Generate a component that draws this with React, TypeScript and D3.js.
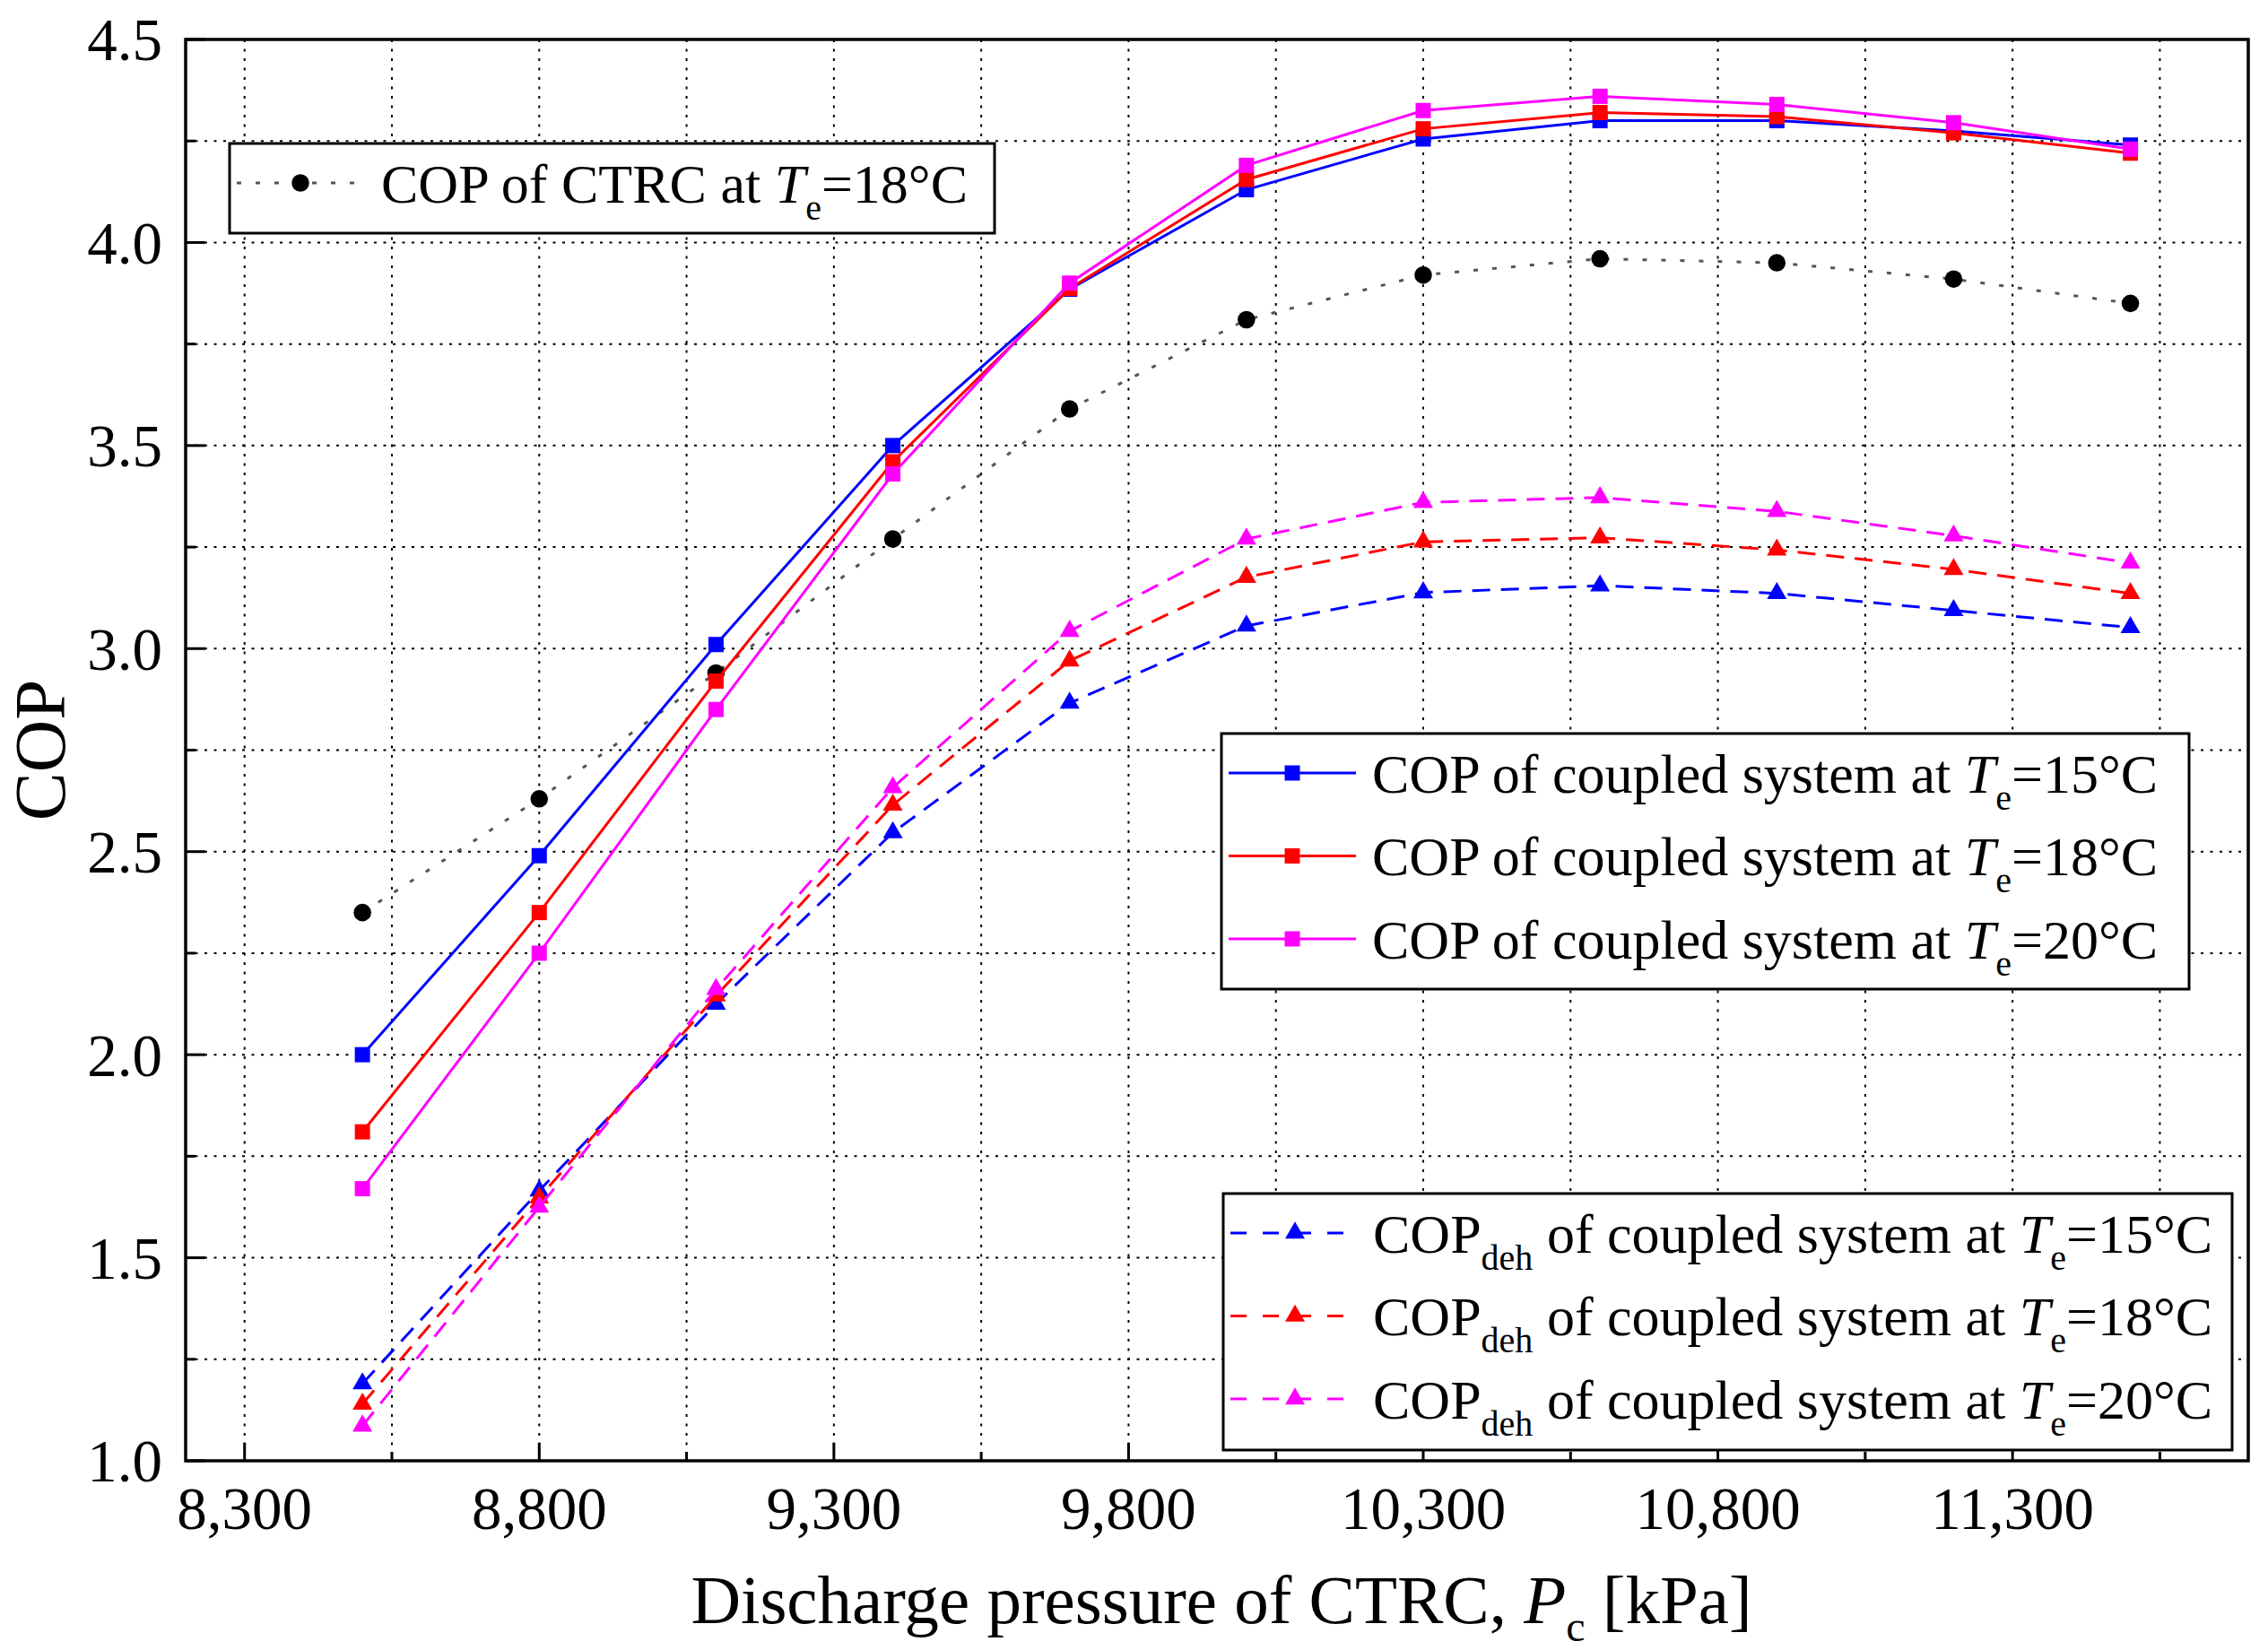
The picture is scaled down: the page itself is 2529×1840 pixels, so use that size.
import React from 'react';
import * as d3 from 'd3';

// discharge pressure of CTRC, kPa
const pressure = [8500, 8800, 9100, 9400, 9700, 10000, 10300, 10600, 10900, 11200, 11500];

const ctrc18 = [2.35, 2.63, 2.94, 3.27, 3.59, 3.81, 3.92, 3.96, 3.95, 3.91, 3.85];

const cop15 = [2.0, 2.49, 3.01, 3.5, 3.885, 4.13, 4.255, 4.3, 4.3, 4.275, 4.24];
const cop18 = [1.81, 2.35, 2.92, 3.46, 3.887, 4.155, 4.28, 4.32, 4.31, 4.27, 4.22];
const cop20 = [1.67, 2.25, 2.85, 3.43, 3.9, 4.19, 4.325, 4.36, 4.34, 4.295, 4.23];

const deh15 = [1.19, 1.665, 2.125, 2.547, 2.866, 3.056, 3.138, 3.155, 3.136, 3.094, 3.052];
const deh18 = [1.14, 1.648, 2.145, 2.615, 2.97, 3.176, 3.263, 3.273, 3.243, 3.195, 3.136];
const deh20 = [1.086, 1.625, 2.161, 2.658, 3.043, 3.27, 3.36, 3.372, 3.338, 3.278, 3.211];

const temps = ['15', '18', '20'];
const colors = ['#0000ff', '#ff0000', '#ff00ff'];

const xMajor = [8300, 8800, 9300, 9800, 10300, 10800, 11300];
const yMajor = [1.0, 1.5, 2.0, 2.5, 3.0, 3.5, 4.0, 4.5];

const W = 2529;
const H = 1840;
const m = { left: 207, right: 2507, top: 44, bottom: 1629 };
const FONT = '"Liberation Serif", "Times New Roman", serif';
const FS = 67; // tick labels
const LFS = 62; // legend text
const SUB = 40;

const x = d3.scaleLinear().domain([8200, 11700]).range([m.left, m.right]);
const y = d3.scaleLinear().domain([1.0, 4.5]).range([m.bottom, m.top]);

const line = d3
  .line<number>()
  .x((_, i) => x(pressure[i]))
  .y((d) => y(d));

const sq = d3.symbol(d3.symbolSquare, 289);
const tri = d3.symbol(d3.symbolTriangle, 210);
const circ = d3.symbol(d3.symbolCircle, 300);

const fmt = d3.format(',');

const Series: React.FC<{
  values: number[];
  color: string;
  dash?: string;
  lineColor?: string;
  marker: string;
}> = ({ values, color, dash, lineColor, marker }) => (
  <g>
    <path d={line(values) || ''} fill="none" stroke={lineColor || color} strokeWidth={3} strokeDasharray={dash} />
    {values.map((v, i) => (
      <path key={i} d={marker} fill={color} transform={`translate(${x(pressure[i])},${y(v)})`} />
    ))}
  </g>
);

const App: React.FC = () => {
  const xGrid = d3.range(8300, 11700, 250);
  const yGrid = d3.range(1.25, 4.5, 0.25);
  const xMinor = xGrid.filter((v) => !xMajor.includes(v));
  const yMinor = yGrid.filter((v) => !yMajor.some((t) => Math.abs(t - v) < 1e-6));

  const cops = [cop15, cop18, cop20];
  const dehs = [deh15, deh18, deh20];

  return (
    <svg width={W} height={H} style={{ position: 'absolute', left: 0, top: 0, background: '#fff' }} fontFamily={FONT}>
      <rect width={W} height={H} fill="#fff" />

      {/* grid */}
      <g stroke="#000" strokeWidth={2} strokeDasharray="3 7.5">
        {xGrid.map((v) => (
          <line key={'gx' + v} x1={x(v)} x2={x(v)} y1={m.top} y2={m.bottom} />
        ))}
        {yGrid.map((v) => (
          <line key={'gy' + v} x1={m.left} x2={m.right} y1={y(v)} y2={y(v)} />
        ))}
      </g>

      {/* ticks, pointing inward */}
      <g stroke="#000" strokeWidth={3}>
        {xMajor.map((v) => (
          <line key={'tx' + v} x1={x(v)} x2={x(v)} y1={m.bottom} y2={m.bottom - 20} />
        ))}
        {xMinor.map((v) => (
          <line key={'mx' + v} x1={x(v)} x2={x(v)} y1={m.bottom} y2={m.bottom - 10} />
        ))}
        {yMajor.map((v) => (
          <line key={'ty' + v} x1={m.left} x2={m.left + 22} y1={y(v)} y2={y(v)} />
        ))}
        {yMinor.map((v) => (
          <line key={'my' + v} x1={m.left} x2={m.left + 11} y1={y(v)} y2={y(v)} />
        ))}
      </g>

      {/* data */}
      <Series values={ctrc18} color="#000" lineColor="#555" dash="5 16" marker={circ() || ''} />
      {cops.map((vals, i) => (
        <Series key={'c' + i} values={vals} color={colors[i]} marker={sq() || ''} />
      ))}
      {dehs.map((vals, i) => (
        <Series key={'d' + i} values={vals} color={colors[i]} dash="20 12" marker={tri() || ''} />
      ))}

      {/* frame */}
      <rect x={m.left} y={m.top} width={m.right - m.left} height={m.bottom - m.top} fill="none" stroke="#000" strokeWidth={3.5} />

      {/* tick labels */}
      <g fontSize={FS} fill="#000">
        {xMajor.map((v) => (
          <text key={'lx' + v} x={x(v)} y={1705} textAnchor="middle">
            {fmt(v)}
          </text>
        ))}
        {yMajor.map((v) => (
          <text key={'ly' + v} x={181} y={y(v)} dy="0.35em" textAnchor="end">
            {v.toFixed(1)}
          </text>
        ))}
      </g>

      {/* axis titles */}
      <text x={1362} y={1810} fontSize={77} textAnchor="middle">
        Discharge pressure of CTRC, <tspan fontStyle="italic">P</tspan>
        <tspan fontSize={48} dy={20}>c</tspan>
        <tspan dy={-20}> [kPa]</tspan>
      </text>
      <text transform={`translate(72,${(m.top + m.bottom) / 2}) rotate(-90)`} fontSize={81} textAnchor="middle">
        COP
      </text>

      {/* legend: CTRC */}
      <g>
        <rect x={256} y={160} width={853} height={100} fill="#fff" stroke="#000" strokeWidth={3} />
        <line x1={264} x2={400} y1={204} y2={204} stroke="#555" strokeWidth={3} strokeDasharray="5 16" />
        <path d={circ() || ''} transform="translate(335,204)" fill="#000" />
        <text x={425} y={204} dy="0.35em" fontSize={LFS}>
          COP of CTRC at <tspan fontStyle="italic">T</tspan>
          <tspan fontSize={SUB} dy={19}>e</tspan>
          <tspan dy={-19}>=18°C</tspan>
        </text>
      </g>

      {/* legend: COP of coupled system */}
      <g>
        <rect x={1362} y={818} width={1079} height={285} fill="#fff" stroke="#000" strokeWidth={3} />
        {temps.map((t, i) => {
          const cy = 862 + i * 92.5;
          return (
            <g key={'l2' + t}>
              <line x1={1370} x2={1512} y1={cy} y2={cy} stroke={colors[i]} strokeWidth={3} />
              <path d={sq() || ''} transform={`translate(1441,${cy})`} fill={colors[i]} />
              <text x={1530} y={cy} dy="0.35em" fontSize={LFS}>
                COP of coupled system at <tspan fontStyle="italic">T</tspan>
                <tspan fontSize={SUB} dy={19}>e</tspan>
                <tspan dy={-19}>={t}°C</tspan>
              </text>
            </g>
          );
        })}
      </g>

      {/* legend: COPdeh of coupled system */}
      <g>
        <rect x={1364} y={1331} width={1125} height={286} fill="#fff" stroke="#000" strokeWidth={3} />
        {temps.map((t, i) => {
          const cy = 1375 + i * 92.5;
          return (
            <g key={'l3' + t}>
              <line x1={1372} x2={1500} y1={cy} y2={cy} stroke={colors[i]} strokeWidth={3} strokeDasharray="18 18" />
              <path d={tri() || ''} transform={`translate(1444,${cy})`} fill={colors[i]} />
              <text x={1531} y={cy} dy="0.35em" fontSize={LFS}>
                COP
                <tspan fontSize={SUB} dy={19}>deh</tspan>
                <tspan dy={-19}> of coupled system at </tspan>
                <tspan fontStyle="italic">T</tspan>
                <tspan fontSize={SUB} dy={19}>e</tspan>
                <tspan dy={-19}>={t}°C</tspan>
              </text>
            </g>
          );
        })}
      </g>
    </svg>
  );
};

export default App;
